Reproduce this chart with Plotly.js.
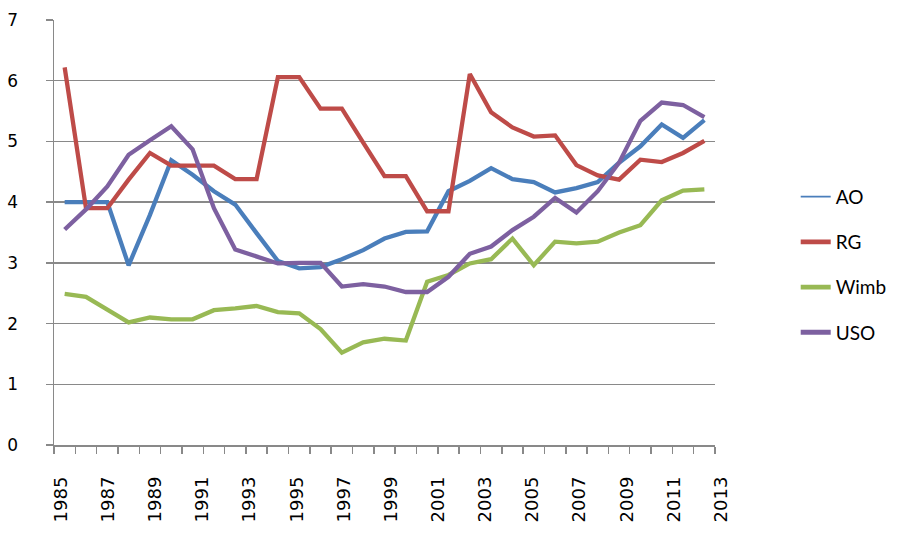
<!DOCTYPE html>
<html>
<head>
<meta charset="utf-8">
<script src="https://cdn.plot.ly/plotly-3.0.1.min.js"></script>
<style>html,body{margin:0;padding:0;background:#fff;}#chart{width:904px;height:548px;}</style>
</head>
<body>
<div id="chart"></div>
<script>
// Series values (31 points each)
const AO   = [4.00,4.00,4.00,2.96,3.79,4.69,4.45,4.18,3.96,3.49,3.03,2.91,2.93,3.06,3.21,3.40,3.51,3.52,4.18,4.35,4.56,4.38,4.33,4.16,4.23,4.33,4.65,4.92,5.28,5.06,5.35];
const RG   = [6.22,3.90,3.90,4.37,4.81,4.60,4.60,4.60,4.38,4.38,6.06,6.06,5.54,5.54,4.98,4.43,4.43,3.85,3.85,6.11,5.48,5.23,5.08,5.10,4.61,4.44,4.37,4.70,4.66,4.81,5.01];
const Wimb = [2.49,2.44,2.23,2.02,2.10,2.07,2.07,2.22,2.25,2.29,2.19,2.17,1.91,1.52,1.69,1.75,1.72,2.69,2.80,2.99,3.06,3.40,2.96,3.35,3.32,3.35,3.50,3.62,4.03,4.19,4.21];
const USO  = [3.55,3.88,4.26,4.78,5.02,5.25,4.87,3.90,3.22,3.10,2.99,3.00,3.00,2.61,2.65,2.61,2.52,2.52,2.77,3.15,3.27,3.54,3.76,4.07,3.83,4.18,4.65,5.34,5.64,5.60,5.40];
// Tick labels on the category axis
const tickYears = [1985,1987,1989,1991,1993,1995,1997,1999,2001,2003,2005,2007,2009,2011,2013];
const seriesNames = ["AO","RG","Wimb","USO"];

const colors = {AO:"#4a7ebb", RG:"#be4b48", Wimb:"#98b954", USO:"#7d60a0"};
const legendWidths = {AO:1.6, RG:4.8, Wimb:4.8, USO:4.8};
const values = {AO:AO, RG:RG, Wimb:Wimb, USO:USO};
const idx = AO.map((_, i) => i);

const traces = [];
seriesNames.forEach(n => {
  traces.push({
    x: idx, y: values[n], type: "scatter", mode: "lines",
    line: {color: colors[n], width: 4.3},
    showlegend: false, hoverinfo: "skip"
  });
});
seriesNames.forEach((n, k) => {
  traces.push({
    x: [null], y: [null], type: "scatter", mode: "lines", name: n,
    legendgroup: "g" + k,
    line: {color: colors[n], width: legendWidths[n]},
    hoverinfo: "skip"
  });
});
traces.push({x: tickYears, y: tickYears.map(() => null), xaxis: "x2", yaxis: "y2", type: "scatter",
  mode: "lines", showlegend: false, hoverinfo: "skip"});

const gray = "#898989";
const W = 670;
const layout = {
  width: 904, height: 548,
  margin: {l: 54, r: 180, t: 20, b: 102.5},
  paper_bgcolor: "#fff", plot_bgcolor: "rgba(0,0,0,0)",
  showlegend: true,
  legend: {x: 1.112, xanchor: "left", y: 0.424, yanchor: "middle",
    font: {family: "Lato, 'Open Sans', sans-serif", size: 19, color: "#000"},
    tracegroupgap: 17.5, bgcolor: "rgba(0,0,0,0)"},
  xaxis: {domain: [0, 664 / W], range: [-0.5, 30.5], tick0: -0.5, dtick: 1, ticks: "outside", ticklen: 7,
    tickcolor: gray, tickwidth: 1.5, showticklabels: false, showgrid: false,
    zeroline: false, showline: true, linecolor: gray, linewidth: 1.5},
  xaxis2: {domain: [7 / W, 671 / W], anchor: "y2", side: "bottom", range: [1985, 2013], tickvals: tickYears,
    ticktext: tickYears.map(String), tickangle: -90, ticks: "", showgrid: false,
    zeroline: false, showline: false, ticklabelstandoff: 27,
    tickfont: {family: "'DejaVu Sans', sans-serif", size: 18, color: "#000"}},
  yaxis: {range: [0, 7], dtick: 1, ticks: "outside", ticklen: 7, tickcolor: gray,
    tickwidth: 1.5, showgrid: true, gridcolor: gray, gridwidth: 1.5, zeroline: false,
    showline: true, linecolor: gray, linewidth: 1.5, ticklabelstandoff: 24,
    tickfont: {family: "'DejaVu Sans', sans-serif", size: 17, color: "#000"}},
  yaxis2: {anchor: "x2", range: [0, 7], visible: false, showgrid: false, zeroline: false}
};

Plotly.newPlot("chart", traces, layout, {staticPlot: true, displayModeBar: false});
</script>
</body>
</html>
